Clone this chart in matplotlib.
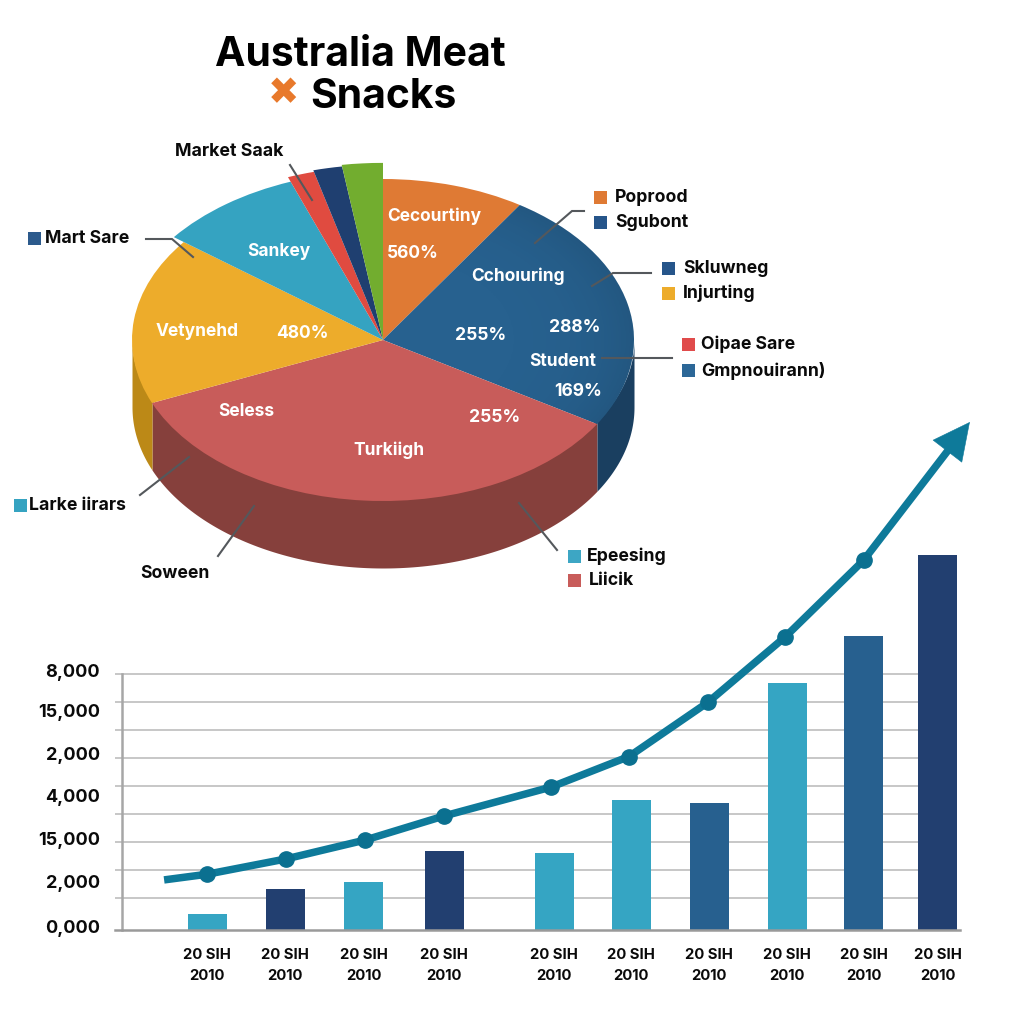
import matplotlib
matplotlib.use("Agg")
import numpy as np
import matplotlib.pyplot as plt
from matplotlib.lines import Line2D
from matplotlib.patches import Rectangle

# ---------- data ----------
title_line1 = "Australia Meat"
title_line2 = "Snacks"
pie_shares = [9.17, 24.58, 34.86, 16.81, 8.89, 1.60, 1.71, 2.39]
pie_radii = [1.0, 1.0, 1.0, 1.0, 1.05, 1.08, 1.09, 1.10]
bar_values = [0.56, 1.45, 1.70, 2.79, 2.72, 4.59, 4.49, 8.73, 10.4, 13.25]
line_values = [1.77, 1.97, 2.51, 3.18, 4.03, 5.05, 6.13, 8.04, 10.35, 13.07]
arrow_tip_value = 17.95
y_tick_values = [0.14, 1.70, 3.25, 4.74, 6.23, 7.74, 9.18]
y_tick_labels = ["0,000", "2,000", "15,000", "4,000", "2,000", "15,000", "8,000"]
x_tick_labels = ["20 SIH\n2010"] * 10
grid_values = [1.13, 2.12, 3.11, 4.10, 5.09, 6.08, 7.07, 8.06, 9.05]

# ---------- layout / style ----------
W = H = 1024
pie_colors = ["#DF7A34", "#27618F", "#C85C5A", "#EDAC2B", "#35A3C1", "#E04B40", "#1F3F70", "#72AD2F"]
side_colors = {"yellow": "#BC8917", "red": "#86403C", "blue": "#1A3F60"}
bar_colors = ["#35A5C3", "#223F70", "#35A5C3", "#223F70", "#35A5C3",
              "#35A5C3", "#27608F", "#35A5C3", "#27608F", "#223F70"]
FONT = "Inter"
LINEC = "#0E7A9A"

bar_pos = [0, 1.0, 2.01, 3.04, 4.45, 5.44, 6.44, 7.44, 8.42, 9.37]
line_pos = [-0.55, 0, 1.01, 2.03, 3.04, 4.41, 5.41, 6.42, 7.41, 8.42]
tip_pos = 9.78


def fx(x):
    return x / W


def fy(y):
    return 1 - y / H


def axes_px(left, top, right, bottom):
    return fig.add_axes([fx(left), fy(bottom), (right - left) / W, (bottom - top) / H])


def label(x, y, s, **kw):
    kw.setdefault("family", FONT)
    kw.setdefault("fontweight", "bold")
    kw.setdefault("va", "center")
    fig.text(fx(x), fy(y), s, **kw)


fig = plt.figure(figsize=(W / 100, H / 100), dpi=100, facecolor="white")

# ---------- pie ----------
cx, cy, rx, ry = 383, 340, 251, 161
depth = 67 / ry
pl, pt, pr, pb = 90, 140, 680, 600
ax = axes_px(pl, pt, pr, pb)
wedges, _ = ax.pie(pie_shares, colors=pie_colors, startangle=90, counterclock=False,
                   wedgeprops=dict(linewidth=0))
for w, r in zip(wedges, pie_radii):
    w.set_radius(r)
    w.set_zorder(5)

# soft darkening toward the rim of the blue slice
gx, gy = np.meshgrid(np.linspace(-1.2, 1.2, 240), np.linspace(-1.2, 1.2, 240))
rim = np.zeros(gx.shape + (4,))
rim[..., 3] = 0.10 * np.clip(np.hypot(gx, gy), 0, 1) ** 5
im = ax.imshow(rim, extent=(-1.2, 1.2, -1.2, 1.2), origin="lower", aspect="auto", zorder=5.5)
im.set_clip_path(wedges[1])

ax.set_aspect("auto")
ax.set_xlim((pl - cx) / rx, (pr - cx) / rx)
ax.set_ylim((cy - pb) / ry, (cy - pt) / ry)
ax.axis("off")

edges = np.cumsum([0] + pie_shares) / sum(pie_shares) * 360
side_spans = [(edges[2], edges[3], side_colors["red"]),
              (edges[3], 270.0, side_colors["yellow"]),
              (90.0, edges[2], side_colors["blue"])]
for a, b, col in side_spans:
    t = np.radians(np.linspace(a, b, 120))
    x, y = np.sin(t), np.cos(t)
    ax.fill_between(x, y * 0.96, y - depth, color=col, linewidth=0, zorder=2)

# ---------- pie inner labels ----------
inner_names = [
    ("Cecourtiny", 387, 216, "left"), ("Cchoıuring", 518, 276, "center"),
    ("Sankey", 279, 252, "center"), ("Vetynehd", 156, 332, "left"),
    ("Student", 563, 361, "center"), ("Seless", 246, 412, "center"),
    ("Turkiigh", 389, 450, "center"),
]
inner_pcts = [
    ("560%", 387, 254, "left"), ("480%", 302, 334, "center"),
    ("255%", 481, 335, "center"), ("288%", 575, 327, "center"),
    ("169%", 578, 391, "center"), ("255%", 495, 418, "center"),
]
for s, x, y, ha in inner_names:
    label(x, y, s, color="white", fontsize=12.5, ha=ha, zorder=6)
for s, x, y, ha in inner_pcts:
    label(x, y, s, color="white", fontsize=12.6, ha=ha, zorder=6)

# ---------- outer legends ----------
legend_items = [
    ("Poprood", 594, 197, 615, "#DF7A34"), ("Sgubont", 594, 222, 615, "#26558A"),
    ("Skluwneg", 662, 268, 683, "#26558A"), ("Injurting", 662, 293, 683, "#EDAC2B"),
    ("Oipae Sare", 682, 344, 701, "#E04B4B"), ("Gmpnouirann)", 682, 370, 701, "#2C6797"),
    ("Mart Sare", 28, 238, 45, "#2C5A8C"), ("Larke iirars", 14, 505, 29, "#35A3C1"),
    ("Epeesing", 568, 556, 587, "#3DA6C4"), ("Liicik", 568, 580, 589, "#C85C5A"),
]
for s, sx, y, tx, col in legend_items:
    fig.add_artist(Rectangle((fx(sx), fy(y + 6.5)), 13 / W, 13 / H, transform=fig.transFigure,
                             facecolor=col, edgecolor="none"))
    label(tx, y + 0.5, s, color="#0A0A0A", fontsize=12.7, ha="left")
label(229, 151.5, "Market Saak", color="#0A0A0A", fontsize=12.8, ha="center")
label(140, 573.5, "Soween", color="#0A0A0A", fontsize=12.7, ha="left")

leaders = [
    [(146, 239), (172, 239), (193, 257)],
    [(584, 211), (572, 211), (535, 243)],
    [(651, 273), (613, 273), (592, 286)],
    [(672, 358), (602, 358)],
    [(290, 165), (312, 200)],
    [(140, 495), (189, 457)],
    [(218, 556), (254, 506)],
    [(519, 503), (557, 550)],
]
for pts in leaders:
    fig.add_artist(Line2D([fx(p[0]) for p in pts], [fy(p[1]) for p in pts],
                          transform=fig.transFigure, color="#54585C", lw=1.5,
                          solid_joinstyle="miter"))

# ---------- title ----------
label(360, 55.5, title_line1, color="black", fontsize=29.4, ha="center")
label(310, 97.5, title_line2, color="black", fontsize=29.4, ha="left")
label(283, 94, "\u2716", color="#E8792B", fontsize=27, family="DejaVu Sans",
      fontweight="normal", ha="center")

# ---------- bar + line chart ----------
unit_x, unit_y, x0 = 78.0, 28.3, 207
al, at, ar, ab = 122, 410, 985, 930
bx = axes_px(al, at, ar, ab)
bx.patch.set_alpha(0)
bx.set_xlim((al - x0) / unit_x, (ar - x0) / unit_x)
bx.set_ylim(0, (ab - at) / unit_y)

bx.hlines(grid_values, (115 - x0) / unit_x, 9.4, color="#BEBEBE", lw=1.2, zorder=1, clip_on=False)
bx.bar(bar_pos, bar_values, width=0.5, color=bar_colors, zorder=2)
shaft_end = 0.88
bx.plot(line_pos + [line_pos[-1] + shaft_end * (tip_pos - line_pos[-1])],
        line_values + [line_values[-1] + shaft_end * (arrow_tip_value - line_values[-1])],
        color=LINEC, lw=5.4, zorder=3, solid_capstyle="butt", solid_joinstyle="round")
bx.plot(line_pos[1:], line_values[1:], ls="none", marker="o", ms=11, color="#0B7090", zorder=4)
bx.annotate("", xy=(tip_pos, arrow_tip_value), xytext=(line_pos[-1], line_values[-1]),
            arrowprops=dict(arrowstyle="-|>,head_length=2.6,head_width=1.3", color=LINEC, lw=0.4,
                            shrinkA=0, shrinkB=0, mutation_scale=10), zorder=3)

for k in ("top", "right"):
    bx.spines[k].set_visible(False)
bx.spines["left"].set_color("#A6A6A6")
bx.spines["left"].set_linewidth(1.8)
bx.spines["left"].set_bounds(0, 9.05)
bx.spines["bottom"].set_color("#9A9A9A")
bx.spines["bottom"].set_linewidth(1.8)
bx.spines["bottom"].set_bounds((115 - x0) / unit_x, (960 - x0) / unit_x)

bx.set_yticks(y_tick_values)
bx.set_yticklabels(y_tick_labels, fontsize=13, fontweight="bold", family=FONT, color="#0A0A0A")
bx.tick_params(axis="y", length=0, pad=16)
bx.set_xticks(bar_pos)
bx.set_xticklabels(x_tick_labels, fontsize=10.7, fontweight="bold", family=FONT,
                   color="#0A0A0A", linespacing=1.65)
bx.tick_params(axis="x", length=0, pad=13)

fig.savefig("out.png", dpi=100, facecolor="white")
